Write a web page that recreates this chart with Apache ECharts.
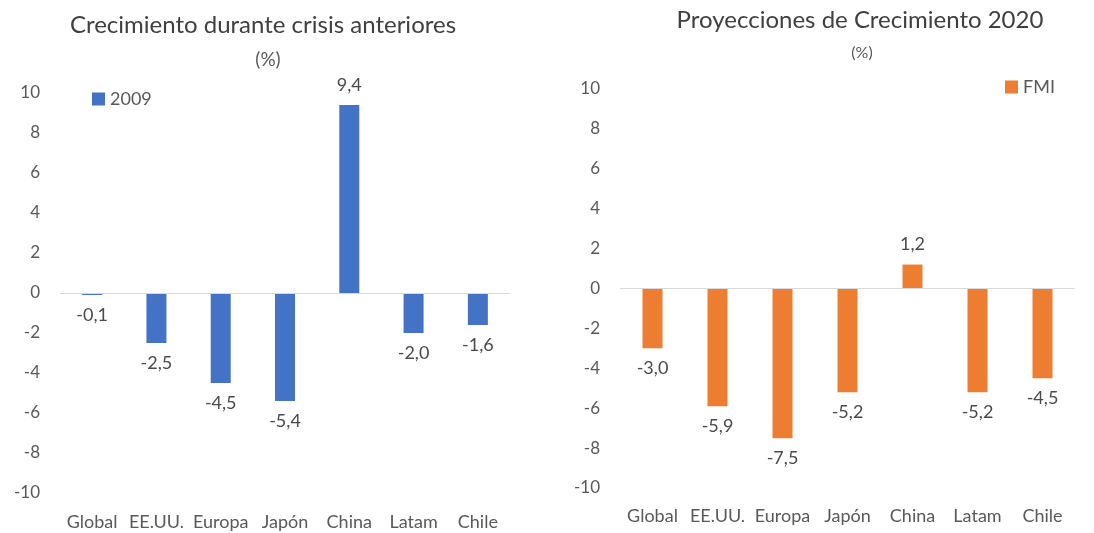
<!DOCTYPE html>
<html>
<head>
<meta charset="utf-8">
<script src="https://cdn.jsdelivr.net/npm/echarts@6/dist/echarts.min.js"></script>
<style>
html,body{margin:0;padding:0;background:#fff;}
#c{width:1094px;height:533px;}
</style>
</head>
<body>
<div id="c"></div>
<script>
const categories = ['Global', 'EE.UU.', 'Europa', 'Japón', 'China', 'Latam', 'Chile'];
const crisis2009 = [-0.1, -2.5, -4.5, -5.4, 9.4, -2.0, -1.6];
const fmi2020 = [-3.0, -5.9, -7.5, -5.2, 1.2, -5.2, -4.5];
const yTicks = { min: -10, max: 10, interval: 2 };

const FONT = 'Lato';
const GRAY = '#595959';

function items(values) {
  return values.map(v => ({
    value: v,
    label: { position: v < 0 ? 'bottom' : 'top' }
  }));
}
function fmt(p) { return p.value.toFixed(1).replace('.', ','); }

const chart = echarts.init(document.getElementById('c'), null, { renderer: 'canvas' });

function xAxisFor(gridIndex, margin) {
  return {
    type: 'category', gridIndex, data: categories,
    position: 'bottom',
    axisLine: { show: false }, axisTick: { show: false },
    axisLabel: { color: GRAY, fontFamily: FONT, fontSize: 18, margin, interval: 0 }
  };
}
function yAxisFor(gridIndex) {
  return {
    type: 'value', gridIndex, min: yTicks.min, max: yTicks.max, interval: yTicks.interval,
    axisLine: { show: false }, axisTick: { show: false }, splitLine: { show: false },
    axisLabel: { color: GRAY, fontFamily: FONT, fontSize: 17, margin: 20 }
  };
}
function seriesFor(name, idx, values, color) {
  return {
    name, type: 'bar', xAxisIndex: idx, yAxisIndex: idx,
    data: items(values), barWidth: 20,
    itemStyle: { color },
    label: { show: true, formatter: fmt, color: '#4a4a4a', fontFamily: FONT, fontSize: 18, distance: 11 },
    markLine: {
      silent: true, symbol: ['none', 'none'],
      label: { show: false },
      lineStyle: { color: '#d9d9d9', width: 1, type: 'solid' },
      data: [{ yAxis: 0 }]
    }
  };
}

chart.setOption({
  animation: false,
  title: [
    { text: 'Crecimiento durante crisis anteriores', left: 258, top: 8, textAlign: 'center',
      textStyle: { color: '#404040', fontFamily: FONT, fontSize: 24, fontWeight: 'normal' } },
    { text: '(%)', left: 263, top: 45, textAlign: 'center',
      textStyle: { color: '#595959', fontFamily: FONT, fontSize: 19, fontWeight: 'normal' } },
    { text: 'Proyecciones de Crecimiento 2020', left: 855, top: 3, textAlign: 'center',
      textStyle: { color: '#404040', fontFamily: FONT, fontSize: 24, fontWeight: 'normal' } },
    { text: '(%)', left: 857, top: 40, textAlign: 'center',
      textStyle: { color: '#595959', fontFamily: FONT, fontSize: 16, fontWeight: 'normal' } }
  ],
  legend: [
    { data: ['2009'], left: 87, top: 85, icon: 'rect', itemWidth: 13, itemHeight: 13, itemGap: 5,
      textStyle: { color: GRAY, fontFamily: FONT, fontSize: 18 } },
    { data: ['FMI'], left: 1000, top: 73, icon: 'rect', itemWidth: 13, itemHeight: 13, itemGap: 6,
      textStyle: { color: GRAY, fontFamily: FONT, fontSize: 18 } }
  ],
  grid: [
    { left: 60, width: 450, top: 93, height: 400 },
    { left: 620, width: 455, top: 89, height: 399 }
  ],
  xAxis: [xAxisFor(0, 20), xAxisFor(1, 19)],
  yAxis: [yAxisFor(0), yAxisFor(1)],
  series: [
    seriesFor('2009', 0, crisis2009, '#4472C4'),
    seriesFor('FMI', 1, fmi2020, '#ED7D31')
  ]
});
</script>
</body>
</html>
